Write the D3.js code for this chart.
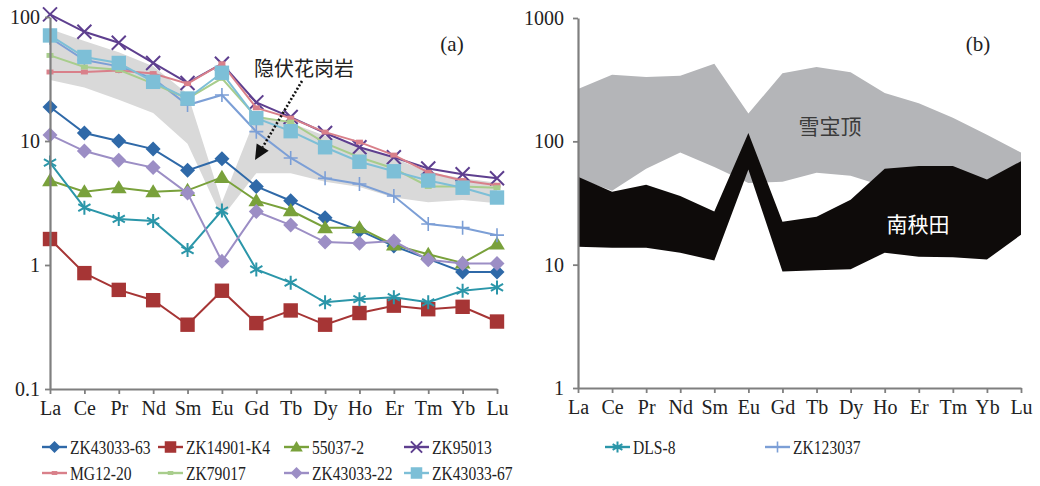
<!DOCTYPE html>
<html>
<head>
<meta charset="utf-8">
<script src="https://cdn.jsdelivr.net/npm/d3@7"></script>
<style>
  html, body { margin: 0; padding: 0; background: #fff; }
  svg { display: block; }
  text { font-family: "Liberation Serif", "Times New Roman", serif; fill: #222; }
</style>
</head>
<body>
<svg id="chart" width="1040" height="486"></svg>
<script>
// ---------------- DATA ----------------
const elements = ["La","Ce","Pr","Nd","Sm","Eu","Gd","Tb","Dy","Ho","Er","Tm","Yb","Lu"];

const yTicksA = [0.1, 1, 10, 100];
const yTickLabelsA = ["0.1", "1", "10", "100"];
const yTicksB = [1, 10, 100, 1000];
const yTickLabelsB = ["1", "10", "100", "1000"];

// panel (a) samples
const seriesNames = ["ZK43033-63","ZK14901-K4","55037-2","ZK95013","DLS-8","ZK123037","MG12-20","ZK79017","ZK43033-22","ZK43033-67"];
const zk43033_63 = [18.8, 11.6, 10.0, 8.6, 5.8, 7.2, 4.3, 3.3, 2.4, 1.9, 1.42, 1.12, 0.88, 0.88];
const zk14901_k4 = [1.62, 0.86, 0.63, 0.52, 0.33, 0.62, 0.34, 0.43, 0.33, 0.41, 0.47, 0.44, 0.46, 0.35];
const s55037_2   = [4.8, 3.9, 4.2, 3.9, 4.0, 5.1, 3.3, 2.75, 2.0, 2.0, 1.45, 1.22, 1.04, 1.48];
const zk95013    = [105, 76, 62, 42.6, 29.4, 42, 20.5, 15.6, 11.6, 8.9, 7.4, 6.0, 5.4, 5.0];
const dls8       = [6.7, 2.9, 2.35, 2.26, 1.32, 2.75, 0.92, 0.72, 0.50, 0.53, 0.55, 0.50, 0.62, 0.66];
const zk123037   = [68, 45, 40, 32, 19.5, 23.5, 11.9, 7.3, 5.0, 4.5, 3.6, 2.14, 2.0, 1.74];
const mg12_20    = [36, 36, 37, 35, 29, 42, 18.5, 15.3, 11.8, 9.8, 7.7, 5.6, 4.8, 4.4];
const zk79017    = [49, 39.5, 37.5, 29, 22, 32, 15.6, 14.2, 9.6, 7.4, 6.0, 4.3, 4.3, 4.2];
const zk43033_22 = [11.2, 8.3, 7.0, 6.1, 3.8, 1.07, 2.7, 2.1, 1.53, 1.5, 1.56, 1.1, 1.03, 1.03];
const zk43033_67 = [71, 47.6, 42.6, 30, 22, 35.5, 15.3, 12, 8.9, 6.8, 5.7, 4.8, 4.2, 3.5];

// hidden granite envelope (panel a)
const bandUpperA = [80, 64, 52, 40, 24, 3.2, 16, 14, 11, 9, 7.3, 5.6, 5.0, 4.6];
const bandLowerA = [31, 27, 21.5, 16.8, 9.5, 2.4, 5.5, 5.5, 4.7, 4.25, 3.5, 3.2, 3.35, 3.15];

// panel (b) envelopes
const xbdUpper = [266, 346, 333, 340, 425, 168, 357, 400, 364, 246, 204, 155, 113, 81];
const xbdLower = [50, 39.7, 60, 81, 62, 46, 47, 55.6, 52.5, 43, 50, 50, 45, 60];
const nytUpper = [51.6, 39, 44.5, 36, 27, 117, 22.3, 24.5, 33.6, 60, 63, 63, 49, 69];
const nytLower = [14, 13.7, 13.7, 12.5, 10.8, 59, 8.8, 9.0, 9.2, 12.5, 11.6, 11.5, 11, 17.5];

// ---------------- STYLE ----------------
const seriesValues = [zk43033_63, zk14901_k4, s55037_2, zk95013, dls8, zk123037, mg12_20, zk79017, zk43033_22, zk43033_67];
const seriesColors = ["#2f69a8","#a63535","#79a13b","#5e3f8f","#2b96a9","#7c9fd6","#d9808a","#a8cd8c","#9c8ec5","#7dbfd7"];
const seriesMarkers = ["diamond","square","triangle","x","ast","plus","small","small","diamond","square"];
const axisColor = "#7f7f7f";

const svg = d3.select("#chart");

// scales
const xA = d3.scalePoint().domain(elements).range([50, 497]).padding(0);
const yA = d3.scaleLog().domain([0.1, 100]).range([389, 17]);
const xB = d3.scalePoint().domain(elements).range([578, 1021]).padding(0);
const yB = d3.scaleLog().domain([1, 1000]).range([388, 18]);

function markerPath(type, r) {
  switch (type) {
    case "diamond": return `M0,${-r}L${r},0L0,${r}L${-r},0Z`;
    case "square": return `M${-r},${-r}H${r}V${r}H${-r}Z`;
    case "triangle": return `M0,${-r}L${r*1.05},${r*0.75}L${-r*1.05},${r*0.75}Z`;
    case "x": return `M${-r},${-r}L${r},${r}M${-r},${r}L${r},${-r}`;
    case "plus": return `M${-r},0L${r},0M0,${-r}L0,${r}`;
    case "ast": { const a = r*0.87, b = r*0.5;
      return `M0,${-r}L0,${r}M${-a},${-b}L${a},${b}M${-a},${b}L${a},${-b}`; }
    case "small": return `M${-r*0.5},${-r*0.35}H${r*0.5}V${r*0.35}H${-r*0.5}Z`;
  }
}
const markerR = {diamond: 7.5, square: 7.2, triangle: 7.5, x: 7, ast: 7, plus: 7, small: 7};
const strokeMarker = t => (t === "x" || t === "ast" || t === "plus");

function drawMarker(g, type, color, x, y, scale = 1) {
  const r = markerR[type] * scale;
  const p = g.append("path").attr("d", markerPath(type, r)).attr("transform", `translate(${x},${y})`);
  if (strokeMarker(type)) p.attr("fill", "none").attr("stroke", color).attr("stroke-width", type === "plus" ? 1.6 : 2);
  else p.attr("fill", color).attr("stroke", "none");
}

function drawAxes(x, y, ticks, labels, padY) {
  const gy = svg.append("g").attr("transform", `translate(${x.range()[0]},0)`)
    .call(d3.axisLeft(y).tickValues(ticks).tickFormat((d, i) => labels[i]).tickSize(5).tickSizeOuter(0).tickPadding(padY));
  const gx = svg.append("g").attr("transform", `translate(0,${y.range()[0]})`)
    .call(d3.axisBottom(x).tickSize(5).tickSizeOuter(0).tickPadding(7));
  [gx, gy].forEach(g => {
    g.select(".domain").attr("stroke", axisColor).attr("stroke-width", 2.2);
    g.selectAll(".tick line").attr("stroke", axisColor).attr("stroke-width", 1.8);
    g.selectAll(".tick text").attr("fill", "#222").style("font-family", '"Liberation Serif", serif').style("font-size", "20px");
  });
}

// ---------------- PANEL (a) ----------------
const area = (x, y, up, lo) => d3.area()
  .x((d, i) => x(elements[i])).y0((d, i) => y(lo[i])).y1((d, i) => y(up[i]));

svg.append("path").datum(elements)
  .attr("d", area(xA, yA, bandUpperA, bandLowerA))
  .attr("fill", "#d9d9d9");

const line = d3.line().x((d, i) => xA(elements[i])).y(d => yA(d));
seriesValues.forEach((vals, s) => {
  const g = svg.append("g");
  g.append("path").datum(vals).attr("d", line).attr("fill", "none")
    .attr("stroke", seriesColors[s]).attr("stroke-width", 2);
  vals.forEach((v, i) => drawMarker(g, seriesMarkers[s], seriesColors[s], xA(elements[i]), yA(v)));
});

drawAxes(xA, yA, yTicksA, yTickLabelsA, 5);

// annotation
svg.append("text").attr("x", 304).attr("y", 67).attr("text-anchor", "middle")
  .attr("dominant-baseline", "central")
  .style("font-family", '"Noto Sans CJK SC", sans-serif').style("font-size", "20px").style("fill", "#222")
  .text("隐伏花岗岩");
(function arrow() {
  const x1 = 302, y1 = 81, x2 = 255, y2 = 160;
  const ang = Math.atan2(y2 - y1, x2 - x1);
  const L = 15, W = 7;
  const bx = x2 - L * Math.cos(ang), by = y2 - L * Math.sin(ang);
  svg.append("line").attr("x1", x1).attr("y1", y1).attr("x2", bx).attr("y2", by)
    .attr("stroke", "#111").attr("stroke-width", 2.6).attr("stroke-dasharray", "2,2");
  const px = -Math.sin(ang) * W, py = Math.cos(ang) * W;
  svg.append("path").attr("d", `M${x2},${y2}L${bx + px},${by + py}L${bx - px},${by - py}Z`).attr("fill", "#111");
})();

svg.append("text").attr("x", 452).attr("y", 44).attr("text-anchor", "middle")
  .attr("dominant-baseline", "central").style("font-size", "21px").text("(a)");

// ---------------- PANEL (b) ----------------
svg.append("path").datum(elements).attr("d", area(xB, yB, xbdUpper, xbdLower)).attr("fill", "#b4b5b8");
svg.append("path").datum(elements).attr("d", area(xB, yB, nytUpper, nytLower)).attr("fill", "#0e0b0a");

drawAxes(xB, yB, yTicksB, yTickLabelsB, 9);

svg.append("text").attr("x", 830).attr("y", 125).attr("text-anchor", "middle")
  .attr("dominant-baseline", "central")
  .style("font-family", '"Noto Sans CJK SC", sans-serif').style("font-size", "21px").style("fill", "#3a3a3a")
  .text("雪宝顶");
svg.append("text").attr("x", 918).attr("y", 223).attr("text-anchor", "middle")
  .attr("dominant-baseline", "central")
  .style("font-family", '"Noto Sans CJK SC", sans-serif').style("font-size", "21px").style("fill", "#ffffff")
  .text("南秧田");
svg.append("text").attr("x", 978).attr("y", 44).attr("text-anchor", "middle")
  .attr("dominant-baseline", "central").style("font-size", "21px").text("(b)");

// ---------------- LEGEND ----------------
const legendLayout = [
  [42, 447], [158, 447], [284, 447], [404, 447], [605, 447], [765, 447],
  [42, 473], [158, 473], [284, 473], [404, 473]
];
seriesNames.forEach((name, s) => {
  const [lx, ly] = legendLayout[s];
  const g = svg.append("g");
  g.append("line").attr("x1", lx).attr("x2", lx + 25).attr("y1", ly).attr("y2", ly)
    .attr("stroke", seriesColors[s]).attr("stroke-width", 2.4);
  drawMarker(g, seriesMarkers[s], seriesColors[s], lx + 12.5, ly, 0.8);
  const t = g.append("text").attr("x", lx + 28).attr("y", ly).attr("dominant-baseline", "central")
    .style("font-size", "19.5px").text(name);
  const L = t.node().getComputedTextLength();
  t.attr("textLength", L * 0.8).attr("lengthAdjust", "spacingAndGlyphs");
});
</script>
</body>
</html>
